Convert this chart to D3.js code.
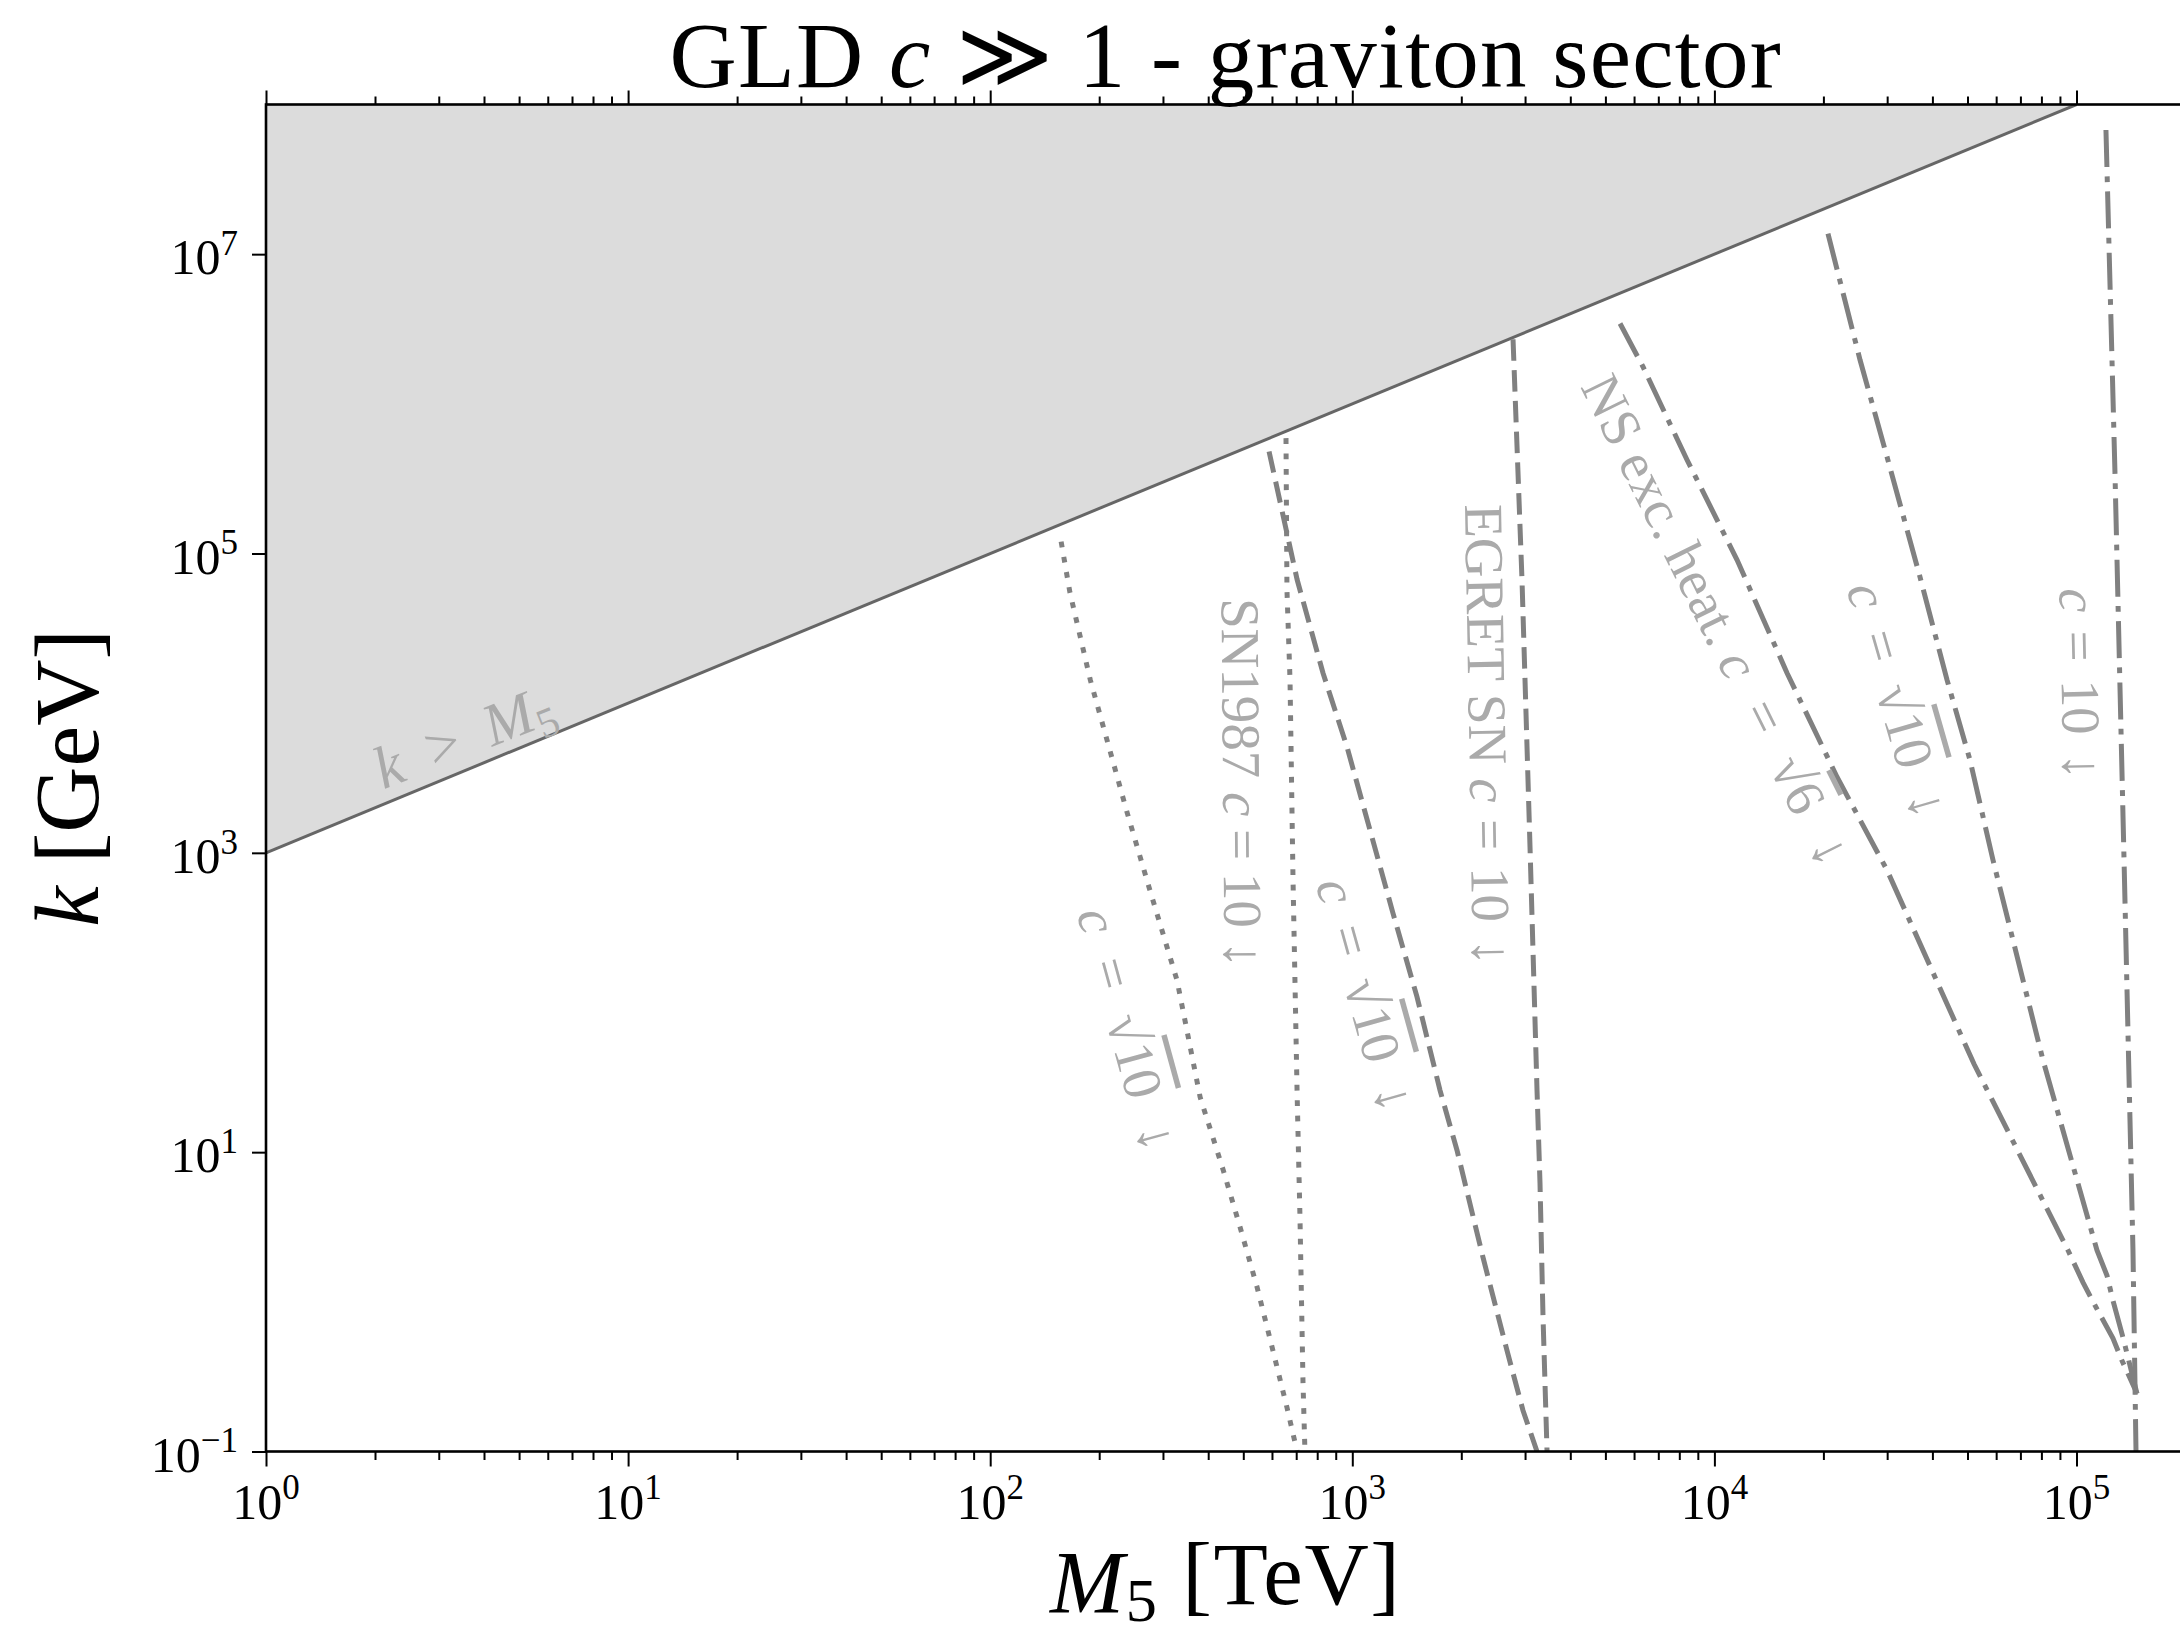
<!DOCTYPE html>
<html>
<head>
<meta charset="utf-8">
<script src="https://cdn.jsdelivr.net/npm/d3@7"></script>
<style>
  body { margin: 0; background: #fff; }
  svg { display: block; }
  text { font-family: "Liberation Serif", "DejaVu Serif", serif; }
</style>
</head>
<body>
<svg id="chart" width="2180" height="1637"></svg>
<script>
// ---- axis ranges and ticks ----
const xDomain = [1, 2e5];          // M5 [TeV]
const yDomain = [0.1, 1e8];        // k [GeV]
const xTickValues = [1, 10, 100, 1e3, 1e4, 1e5];
const xTickExponents = ["0", "1", "2", "3", "4", "5"];
const yTickValues = [0.1, 10, 1e3, 1e5, 1e7];
const yTickExponents = ["\u22121", "1", "3", "5", "7"];

// ---- k = M5 boundary (k in GeV, M5 in TeV) ----
const boundaryM5 = [1, 1e5];
const boundaryK = [1e3, 1e8];

// ---- SN1987, c = sqrt(10) ----
const sn1987Sqrt10M5 = [157, 166, 189, 239, 276, 328, 380, 440, 490, 546, 604, 660, 704];
const sn1987Sqrt10K  = [1.2e5, 5.5e4, 1.43e4, 1850, 564, 141, 23.3, 7.6, 3.15, 1.25, 0.47, 0.197, 0.1];

// ---- SN1987, c = 10 ----
const sn1987TenM5 = [656, 660, 673, 686, 704, 717, 731, 740];
const sn1987TenK  = [5.9e5, 5.7e4, 1.43e4, 658, 24.8, 3.67, 0.285, 0.1];

// ---- EGRET SN, c = sqrt(10) ----
const egretSqrt10M5 = [589, 704, 830, 967, 1119, 1295, 1509, 1747, 1946, 2296, 2674, 2961, 3237];
const egretSqrt10K  = [4.8e5, 6.7e4, 1.59e4, 5100, 1420, 396, 109, 25.9, 10.3, 1.98, 0.473, 0.188, 0.1];

// ---- EGRET SN, c = 10 ----
const egretTenM5 = [2779, 2942, 2999, 3096, 3237, 3299, 3363, 3450];
const egretTenK  = [2.7e6, 6.67e4, 1.43e4, 1093, 25.9, 6.2, 0.787, 0.1];

// ---- NS excess heating, c = sqrt(6) ----
const nsSqrt6M5 = [5488, 6350, 8400, 11546, 15870, 21810, 29970, 52120, 94740, 104200, 112500, 126100, 133500, 146900];
const nsSqrt6K  = [3.44e6, 1.77e6, 4.23e5, 9.08e4, 1.59e4, 3212, 767, 38.8, 2.21, 1.35, 0.946, 0.57, 0.406, 0.244];

// ---- NS excess heating, c = sqrt(10) ----
const nsSqrt10M5 = [20590, 25240, 29970, 36960, 43900, 50800, 58800, 80800, 113900, 121400, 126100, 134400, 146900];
const nsSqrt10K  = [1.37e7, 1.97e6, 4.43e5, 6.98e4, 1.43e4, 4170, 895, 41.3, 2.21, 1.50, 1.02, 0.578, 0.244];

// ---- NS excess heating, c = 10 ----
const nsTenM5 = [120600, 127700, 135300, 143200, 146000];
const nsTenK  = [6.75e7, 3.5e5, 895, 2.22, 0.1];

// ---- dash patterns ----
const dashStyles = {
  dotted: "5.8 9.6",
  dashed: "21.5 9.3",
  dashdot: "37 9.3 5.8 9.3"
};

const series = [
  { m5: sn1987Sqrt10M5, k: sn1987Sqrt10K, dash: "dotted" },
  { m5: sn1987TenM5,    k: sn1987TenK,    dash: "dotted" },
  { m5: egretSqrt10M5,  k: egretSqrt10K,  dash: "dashed" },
  { m5: egretTenM5,     k: egretTenK,     dash: "dashed" },
  { m5: nsSqrt6M5,      k: nsSqrt6K,      dash: "dashdot" },
  { m5: nsSqrt10M5,     k: nsSqrt10K,     dash: "dashdot" },
  { m5: nsTenM5,        k: nsTenK,        dash: "dashdot" }
];

// text pieces: i = italic, sub = subscript, over = overlined radicand,
// m = math run whose blanks get the wider math spacing
const arrowDown = "\u2193";
const annotations = [
  { parts: [{t: "k", i: true, m: true}, {t: " > ", m: true}, {t: "M", i: true, m: true}, {t: "5", sub: true}],
    m5: 3.68, k: 4500, angle: -21.5, span: 188, size: 60, baseline: "alphabetic" },
  { parts: [{t: "c", i: true}, {t: " = \u221A", m: true}, {t: "10", over: true}, {t: " " + arrowDown, m: true}],
    m5: 240, k: 66.5, angle: 74.7, span: 250 },
  { parts: [{t: "SN1987 "}, {t: "c", i: true}, {t: " = 10 " + arrowDown, m: true}],
    m5: 496, k: 2928, angle: 89.5, span: 370 },
  { parts: [{t: "c", i: true}, {t: " = \u221A", m: true}, {t: "10", over: true}, {t: " " + arrowDown, m: true}],
    m5: 1091, k: 113, angle: 74.5, span: 240 },
  { parts: [{t: "EGRET SN "}, {t: "c", i: true}, {t: " = 10 " + arrowDown, m: true}],
    m5: 2371, k: 6124, angle: 89, span: 462 },
  { parts: [{t: "NS exc. heat. "}, {t: "c", i: true}, {t: " = \u221A", m: true}, {t: "6", over: true}, {t: " " + arrowDown, m: true}],
    m5: 10170, k: 35960, angle: 63.6, span: 540 },
  { parts: [{t: "c", i: true}, {t: " = \u221A", m: true}, {t: "10", over: true}, {t: " " + arrowDown, m: true}],
    m5: 32140, k: 10500, angle: 74, span: 243 },
  { parts: [{t: "c", i: true}, {t: " = 10 " + arrowDown, m: true}],
    m5: 102600, k: 13430, angle: 88.7, span: 192 }
];

// ---- layout ----
const plot = { left: 266, right: 2185.5, top: 104.5, bottom: 1451.5 };
const svg = d3.select("#chart");

const x = d3.scaleLog().domain(xDomain).range([plot.left, plot.right]);
const y = d3.scaleLog().domain(yDomain).range([plot.bottom, plot.top]);

svg.append("defs").append("clipPath").attr("id", "plotClip")
  .append("rect")
  .attr("x", plot.left).attr("y", plot.top)
  .attr("width", plot.right - plot.left).attr("height", plot.bottom - plot.top);

const plotArea = svg.append("g").attr("clip-path", "url(#plotClip)");

// excluded region k > M5
const fillPts = [[boundaryM5[0], boundaryK[0]], [boundaryM5[1], boundaryK[1]], [boundaryM5[0], yDomain[1]]];
plotArea.append("path")
  .attr("d", d3.line().x(d => x(d[0])).y(d => y(d[1]))(fillPts) + "Z")
  .attr("fill", "#dcdcdc");

plotArea.append("path")
  .attr("d", d3.line().x(d => x(d[0])).y(d => y(d[1]))(d3.zip(boundaryM5, boundaryK)))
  .attr("fill", "none").attr("stroke", "#666666").attr("stroke-width", 3);

// constraint curves
const curve = d3.line().x(d => x(d[0])).y(d => y(d[1]));
series.forEach(s => {
  plotArea.append("path")
    .attr("d", curve(d3.zip(s.m5, s.k)))
    .attr("fill", "none")
    .attr("stroke", "#808080")
    .attr("stroke-width", 5)
    .attr("stroke-dasharray", dashStyles[s.dash]);
});

// rich text helper
function writeParts(textSel, parts, subDy = 0.28) {
  let lowered = false;
  parts.forEach(p => {
    const ts = textSel.append("tspan").text(p.t);
    if (p.i) ts.attr("font-style", "italic");
    if (p.over) ts.style("text-decoration", "overline");
    if (p.m) ts.classed("math", true);
    if (p.sub) { ts.attr("font-size", "70%").attr("dy", subDy + "em"); lowered = true; }
    else if (lowered) { ts.attr("dy", "-0.2em"); lowered = false; }
  });
  return textSel;
}

// widen the blanks of the math runs so the whole text reaches a given length
function fitSpacing(t, target) {
  const w = t.node().getComputedTextLength();
  const runs = t.selectAll("tspan.math");
  let blanks = 0;
  runs.each(function () { blanks += (this.textContent.match(/ /g) || []).length; });
  if (blanks > 0) runs.attr("word-spacing", (target - w) / blanks);
}

// widen letter spacing so a text reaches a given length
function fitLetters(t, target) {
  const w = t.node().getComputedTextLength();
  const n = t.text().length;
  t.attr("letter-spacing", (target - w) / (n - 1));
}

// curve annotations
const labelSize = 55;
annotations.forEach(a => {
  const g = plotArea.append("g")
    .attr("transform", `translate(${x(a.m5)},${y(a.k)}) rotate(${a.angle})`);
  const t = g.append("text")
    .attr("text-anchor", "middle")
    .attr("dominant-baseline", a.baseline || "central")
    .attr("font-size", a.size || labelSize)
    .attr("fill", "#aaaaaa");
  writeParts(t, a.parts);
  fitSpacing(t, a.span);
});

// ---- axes ----
const minorX = [];
for (let d = 0; d <= 5; d++) for (let m = 2; m <= 9; m++) {
  const v = m * Math.pow(10, d);
  if (v <= xDomain[1]) minorX.push(v);
}

function styleAxis(g) {
  g.select(".domain").remove();
  g.selectAll(".tick line").attr("stroke", "#000").attr("stroke-width", 2);
  g.selectAll(".tick text").remove();
}

svg.append("g").attr("transform", `translate(0,${plot.bottom})`)
  .call(d3.axisBottom(x).tickValues(xTickValues).tickSize(15).tickFormat("")).call(styleAxis);
svg.append("g").attr("transform", `translate(0,${plot.bottom})`)
  .call(d3.axisBottom(x).tickValues(minorX).tickSize(8.5).tickFormat("")).call(styleAxis);
svg.append("g").attr("transform", `translate(0,${plot.top})`)
  .call(d3.axisTop(x).tickValues(xTickValues).tickSize(14).tickFormat("")).call(styleAxis);
svg.append("g").attr("transform", `translate(0,${plot.top})`)
  .call(d3.axisTop(x).tickValues(minorX).tickSize(8).tickFormat("")).call(styleAxis);
svg.append("g").attr("transform", `translate(${plot.left},0)`)
  .call(d3.axisLeft(y).tickValues(yTickValues).tickSize(14).tickFormat("")).call(styleAxis);

// spines
svg.append("rect")
  .attr("x", plot.left).attr("y", plot.top)
  .attr("width", plot.right - plot.left).attr("height", plot.bottom - plot.top)
  .attr("fill", "none").attr("stroke", "#000").attr("stroke-width", 2.6);

// tick labels
const tickSize = 50;
xTickValues.forEach((v, i) => {
  const t = svg.append("text")
    .attr("x", x(v)).attr("y", plot.bottom + 67)
    .attr("text-anchor", "middle").attr("font-size", tickSize);
  t.append("tspan").text("10");
  t.append("tspan").attr("font-size", "70%").attr("dy", "-0.55em").text(xTickExponents[i]);
});
yTickValues.forEach((v, i) => {
  const t = svg.append("text")
    .attr("x", plot.left - 28).attr("y", y(v) + 20)
    .attr("text-anchor", "end").attr("font-size", tickSize);
  t.append("tspan").text("10");
  t.append("tspan").attr("font-size", "70%").attr("dy", "-0.55em").text(yTickExponents[i]);
});

// fit a text element to a target advance width
function fitWidth(t, target) {
  const w = t.node().getComputedTextLength();
  const fs = parseFloat(t.attr("font-size"));
  t.attr("font-size", fs * target / w);
}

const midX = (plot.left + plot.right) / 2;

// title
const title = svg.append("text")
  .attr("x", midX).attr("y", 87)
  .attr("text-anchor", "middle").attr("font-size", 93);
writeParts(title, [{t: "GLD "}, {t: "c", i: true}, {t: " \u226B 1 - graviton sector"}]);
fitLetters(title, 1111);

// axis titles
const xTitle = svg.append("text")
  .attr("x", midX).attr("y", 1612)
  .attr("text-anchor", "middle").attr("font-size", 89);
writeParts(xTitle, [{t: "M", i: true}, {t: "5", sub: true}, {t: " [TeV]"}], 0.15);
fitLetters(xTitle, 350);

const yTitle = svg.append("text")
  .attr("transform", `translate(98,${(plot.top + plot.bottom) / 2}) rotate(-90)`)
  .attr("text-anchor", "middle").attr("font-size", 92);
writeParts(yTitle, [{t: "k", i: true}, {t: " [GeV]"}]);
fitWidth(yTitle, 298);
</script>
</body>
</html>
